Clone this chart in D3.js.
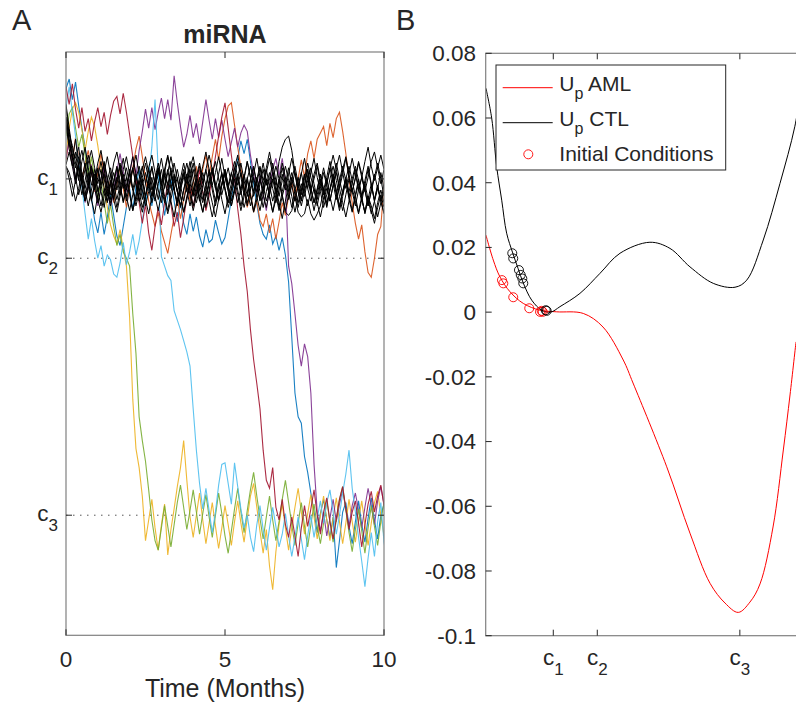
<!DOCTYPE html>
<html>
<head>
<meta charset="UTF-8">
<script src="https://d3js.org/d3.v7.min.js"></script>
<style>
  body { margin: 0; background: #fff; }
  text { font-family: "Liberation Sans", Arial, Helvetica, sans-serif; fill: #262626; }
</style>
</head>
<body>
<svg id="canvas" width="796" height="708"></svg>
<script>
// fixed points of the miRNA level (same units on A's y axis and B's x axis)
const levelSubs = ["1", "2", "3"];
const levels = [20, 25, 41.2];
const timeTicks = [0, 5, 10];
const dt = 0.1; // months between samples

// AML runs, miRNA level every 0.1 month from t = 0 to 10
const amlBlue = [14.3,13.7,15.0,13.9,15.4,16.8,18.0,19.5,21.2,22.6,23.4,
  22.1,23.5,22.4,21.0,22.3,23.6,24.2,23.0,21.8,20.6,
  21.9,20.5,19.4,20.8,21.6,20.3,21.7,20.4,19.6,21.0,
  22.3,21.1,20.0,21.4,22.7,21.5,22.8,23.5,22.2,23.3,
  22.4,23.6,24.3,23.2,24.0,23.8,22.6,23.4,24.1,23.7,
  22.5,21.3,20.0,18.7,17.6,18.4,17.5,18.9,20.3,21.6,
  22.8,23.5,23.8,22.9,24.1,23.6,24.5,23.7,24.8,26.5,
  30.0,33.5,35.0,35.4,37.5,38.5,39.8,41.0,42.3,41.1,
  40.2,41.5,42.6,41.3,44.5,42.8,41.0,40.4,41.9,43.0,
  41.6,40.3,41.8,42.9,41.4,40.1,41.5,42.7,41.2,40.5,41.8];
const amlOrange = [18.8,17.6,18.9,17.4,18.6,20.1,19.0,18.2,19.5,20.8,19.6,
  18.4,19.7,21.0,20.1,21.5,20.4,19.2,20.6,21.8,20.5,
  19.3,18.1,17.3,18.6,20.0,21.4,22.2,23.0,22.1,23.3,
  24.0,24.7,23.5,22.4,21.2,22.5,21.3,20.1,21.4,20.3,
  19.2,20.5,19.4,18.5,19.8,18.6,17.5,18.8,17.3,16.2,
  15.4,15.2,16.6,18.0,19.3,20.6,21.8,20.9,22.1,21.4,
  22.6,23.0,22.2,23.4,22.5,23.8,22.7,21.5,22.3,21.1,
  20.2,21.4,20.0,18.8,19.9,18.4,17.6,18.7,17.5,17.1,
  16.7,17.9,16.5,17.4,16.2,15.8,17.0,18.4,20.0,21.5,
  22.8,23.8,22.9,24.6,25.9,26.2,25.0,23.5,23.0,20.4,17.7];
const amlYellow = [18.5,16.8,15.6,15.2,15.8,16.9,18.2,17.0,16.1,16.7,17.9,
  19.3,20.6,21.8,22.9,23.6,24.1,23.2,24.4,25.5,28.7,
  33.9,37.0,38.2,40.0,42.8,41.5,40.2,42.0,43.4,41.8,
  40.5,43.7,42.1,40.8,39.4,38.2,36.5,39.0,41.3,42.6,
  41.2,39.8,41.5,43.0,41.7,40.4,41.9,43.3,42.0,40.6,
  41.8,43.1,41.6,40.3,41.7,42.9,41.4,40.0,39.2,40.7,
  42.2,43.6,42.1,44.4,45.9,43.5,41.8,40.5,42.0,43.4,
  42.0,40.7,39.5,41.0,42.4,41.1,39.9,41.3,42.7,41.2,
  40.0,41.5,42.8,41.4,40.1,41.6,43.0,41.7,40.2,41.6,
  42.9,41.5,40.3,41.8,43.1,41.7,40.4,39.7,41.2,42.5,41.3];
const amlPurple = [18.7,17.5,18.9,20.2,19.0,20.4,21.5,20.3,19.1,20.5,21.7,
  20.4,19.2,20.6,21.8,20.7,19.5,18.4,19.6,20.8,19.7,
  18.6,19.8,18.2,17.0,15.6,16.8,15.5,16.9,15.8,14.9,
  16.2,15.0,16.3,13.5,15.2,16.7,18.0,17.2,16.0,17.4,
  16.5,17.8,16.4,15.0,16.3,17.5,16.2,17.4,16.3,17.5,
  18.6,17.7,16.8,18.0,17.1,16.6,17.0,18.5,19.7,20.9,
  19.8,21.0,22.0,20.5,19.4,18.7,19.8,18.7,20.2,25.5,
  26.6,28.5,30.5,31.8,30.4,31.2,33.5,38.0,41.0,42.2,
  41.0,42.5,41.4,40.2,41.6,40.5,39.6,40.8,41.9,40.6,
  39.8,40.9,42.0,40.7,39.5,40.6,41.8,40.3,39.4,40.5,39.2];
const amlGreen = [17.3,15.9,15.5,16.8,18.0,17.2,18.5,19.8,18.6,20.0,21.3,
  20.1,21.5,22.8,21.6,23.0,24.2,23.5,24.6,25.0,25.5,
  28.5,31.0,35.0,36.5,37.8,39.6,41.5,42.8,43.4,42.0,
  40.6,41.9,43.2,41.8,40.4,39.3,40.7,42.1,40.9,39.6,
  41.0,42.4,41.1,39.9,41.3,42.6,41.2,39.8,41.1,42.5,
  43.6,42.2,40.8,39.5,41.0,42.3,40.9,39.6,38.5,40.0,
  41.4,42.7,41.3,40.0,41.5,42.8,41.6,40.2,39.0,40.4,
  41.8,43.1,41.7,40.4,41.9,43.2,41.8,40.5,41.9,43.0,
  41.7,40.3,41.6,42.9,41.5,40.2,39.4,40.9,42.3,43.5,
  42.1,40.8,42.2,43.6,42.0,40.6,41.9,43.1,41.6,40.4,41.5];
const amlLightBlue = [15.5,14.2,15.8,17.3,18.9,20.5,22.2,23.8,22.5,23.9,25.0,
  24.2,25.5,24.8,25.1,26.0,26.2,25.3,24.0,25.4,24.6,
  23.5,24.8,23.9,22.6,21.4,19.8,18.0,15.0,19.5,24.9,
  25.5,26.1,26.4,28.3,28.9,29.5,30.2,30.9,31.8,34.5,
  37.1,39.2,40.8,39.5,40.9,42.3,41.0,39.3,38.0,37.9,
  39.2,40.5,37.9,39.4,40.8,42.0,41.2,42.6,43.5,41.8,
  40.6,42.1,43.4,42.0,40.7,41.9,43.2,42.4,41.1,42.5,
  43.8,42.6,41.3,42.7,44.0,42.5,41.2,42.6,41.4,40.3,
  41.7,40.4,39.6,41.0,42.4,41.2,39.8,38.6,37.1,39.5,
  41.0,42.6,44.1,45.7,43.9,42.3,43.8,41.6,40.4,42.9,44.2];
const amlDarkRed = [14.2,15.3,14.0,15.6,16.8,15.5,17.0,16.2,17.6,16.4,15.5,
  16.7,15.8,17.2,16.0,15.1,14.8,15.9,14.6,15.8,17.2,
  18.6,20.0,21.5,22.8,21.6,23.4,24.5,23.0,21.8,22.9,
  21.5,20.2,21.6,23.0,22.1,23.7,22.5,21.2,20.5,21.8,
  20.6,19.4,20.8,22.0,21.1,19.8,18.6,17.3,16.1,15.2,
  16.8,18.5,20.0,21.9,23.5,25.5,27.1,29.5,31.4,32.9,
  34.5,37.1,39.0,39.5,38.2,40.7,41.5,40.2,41.8,42.6,
  41.3,42.5,43.8,42.0,40.6,41.9,40.8,39.6,41.2,42.4,
  41.0,40.1,41.6,42.7,41.4,40.2,39.4,40.8,42.1,41.0,
  40.3,41.7,43.2,41.8,40.5,39.7,41.0,40.0,39.3,40.6,39.8];

// CTL runs (black)
const ctl1 = [15.3,16.8,18.2,18.7,18.0,19.7,20.6,19.6,21.3,20.3,19.3,20.8,21.8,20.6,19.7,21.3,20.1,19.2,20.3,21.4,
  20.4,19.4,18.5,19.7,20.7,21.7,20.8,19.9,21.1,22.0,21.0,19.7,20.4,19.3,20.6,21.5,20.3,19.6,20.8,20.0,
  19.0,20.1,21.3,22.1,21.1,20.1,19.4,20.6,19.7,18.7,19.9,20.8,21.7,20.7,19.9,21.0,20.0,18.9,19.9,21.1,
  20.3,19.3,20.4,21.4,20.6,19.6,20.7,21.8,20.8,19.9,20.8,20.0,19.2,20.3,21.3,20.4,19.4,20.6,21.5,20.7,
  19.7,20.7,19.9,18.9,20.0,21.0,22.0,21.1,20.1,21.3,22.1,21.0,20.0,21.1,22.2,21.3,20.3,21.4,22.4,21.5,20.8];
const ctl2 = [15.5,17.2,17.9,19.0,20.1,18.9,18.0,19.3,20.4,19.4,20.7,21.7,20.6,21.4,20.3,19.0,18.3,19.4,20.6,19.9,
  21.0,22.0,21.1,20.0,19.2,20.3,19.3,18.5,19.6,20.7,21.5,20.4,19.4,20.6,19.7,20.8,21.8,20.7,19.9,18.9,
  20.0,21.0,20.1,19.2,18.3,19.4,20.4,21.4,20.3,21.3,22.2,21.1,20.3,19.3,20.4,19.6,20.7,21.7,20.6,19.7,
  18.7,19.9,20.8,20.0,21.1,22.1,21.0,20.1,19.0,19.9,20.8,21.8,20.7,19.9,21.0,20.0,19.0,19.9,20.7,21.7,
  20.6,19.6,20.4,21.4,20.4,19.3,18.5,19.6,20.6,19.7,18.7,19.7,20.7,19.9,18.9,18.0,19.2,20.1,19.3,18.5,19.4];
const ctl3 = [16.1,17.5,18.8,17.5,19.2,20.3,21.4,20.4,19.3,20.1,19.0,18.2,19.4,20.6,21.5,20.7,21.8,20.8,19.7,20.7,
  19.6,18.6,19.7,20.8,20.0,21.3,22.2,21.1,20.1,19.3,20.4,19.4,18.5,19.6,20.7,19.9,21.0,22.1,21.3,20.3,
  21.1,20.1,19.2,20.3,19.4,18.5,19.4,20.6,21.4,20.4,19.6,20.6,21.7,20.8,19.9,19.0,20.1,21.1,20.1,19.3,
  20.3,21.4,20.6,19.6,18.7,19.7,20.8,20.0,21.0,22.0,21.0,19.9,20.8,21.8,20.8,19.7,20.6,19.6,18.7,19.9,
  20.8,21.8,21.0,20.0,19.2,20.1,21.1,22.0,21.0,20.0,20.8,19.9,18.9,19.7,20.7,21.7,20.7,19.7,20.6,21.4,20.4];
const ctl4 = [16.3,17.0,18.4,19.3,18.6,20.0,19.0,20.1,21.3,22.2,21.0,20.0,18.9,19.9,21.0,20.1,19.2,20.4,21.5,20.6,
  19.4,20.6,21.4,20.4,19.4,18.6,19.6,20.7,20.0,19.0,20.1,21.1,22.0,20.8,19.9,20.8,20.0,19.0,20.0,21.0,
  22.0,21.1,20.3,21.3,20.4,19.4,20.4,19.6,18.6,19.7,20.7,21.8,21.0,20.0,21.0,22.0,21.1,20.1,21.1,22.1,
  21.3,20.3,19.4,20.4,19.6,20.6,21.5,20.7,19.7,20.7,19.7,18.7,19.7,20.8,21.7,20.8,19.9,21.0,22.0,21.0,
  20.0,20.8,21.8,20.7,19.9,19.0,20.0,21.0,20.0,19.2,20.1,21.1,22.1,21.1,20.3,21.3,22.2,21.4,20.4,21.4,22.2];
const ctl5 = [16.5,18.1,19.2,18.3,19.9,21.0,20.1,19.0,18.2,19.3,20.3,19.4,20.6,21.5,20.4,19.6,20.7,19.7,18.7,19.9,
  20.8,22.0,21.1,20.1,21.3,20.3,19.3,20.4,21.4,20.3,19.4,20.6,19.6,18.6,19.7,20.8,21.7,20.7,19.7,20.7,
  21.7,20.8,19.9,20.8,21.8,20.7,19.7,18.9,20.0,21.0,20.1,19.3,20.3,19.3,18.5,19.6,20.6,21.5,20.7,19.9,
  20.8,20.0,19.0,20.1,21.1,22.1,21.3,20.3,19.3,20.3,21.3,20.4,19.6,20.6,19.7,18.7,19.9,20.8,20.0,19.2,
  20.3,21.3,20.3,19.3,20.3,21.3,20.4,19.4,18.6,19.7,20.8,21.7,20.7,19.9,20.7,21.7,20.8,19.9,19.0,20.0,21.1];
const ctl6 = [16.6,17.8,18.6,19.9,21.0,20.0,21.1,20.1,19.2,20.1,21.3,22.1,21.1,20.1,19.3,20.3,21.3,20.4,19.4,18.6,
  19.7,20.7,19.7,20.8,21.8,21.0,20.0,19.2,20.3,21.3,20.3,19.4,20.4,21.4,22.4,21.3,20.4,19.4,20.3,19.3,
  18.6,19.7,20.7,21.5,20.6,19.6,20.7,21.7,20.7,19.7,20.6,21.5,20.6,19.7,18.9,19.9,21.0,20.0,19.2,20.1,
  21.1,22.0,21.0,20.0,21.0,20.1,19.2,20.0,21.1,20.3,19.3,20.4,21.4,20.4,19.6,20.7,21.7,20.7,19.7,19.0,
  20.1,21.0,20.0,21.1,22.0,21.0,20.1,19.2,20.1,21.1,20.3,19.4,20.6,21.4,20.4,19.4,20.4,21.4,20.6,19.6,20.6];
const ctl7 = [19.1,18.3,19.2,20.3,19.3,20.4,21.4,20.6,19.6,20.7,19.9,18.9,20.0,21.1,20.1,21.3,22.1,21.1,20.1,19.3,
  20.3,19.3,20.4,21.4,20.4,19.6,20.6,21.5,20.6,19.7,18.7,19.9,21.0,20.0,19.0,20.0,21.1,22.1,21.1,20.3,
  19.4,20.4,21.4,20.4,19.4,20.6,21.5,22.4,21.3,20.3,19.4,20.4,19.6,20.6,21.5,20.6,19.7,20.7,21.7,20.8,
  19.9,20.8,21.8,20.8,20.0,19.0,20.1,21.1,20.1,19.2,20.1,21.1,22.1,21.1,20.3,21.1,20.1,19.3,20.3,21.3,
  20.3,19.3,20.3,19.4,18.5,19.4,20.6,19.7,18.7,19.9,20.8,20.0,19.0,19.9,20.8,19.9,18.9,18.3,19.3,20.3,19.4];
const ctl8 = [19.2,20.0,21.1,20.1,19.2,20.3,19.4,18.5,19.6,20.6,21.5,20.7,19.7,20.8,21.7,20.7,19.9,21.0,20.0,21.1,
  22.0,21.0,20.0,19.2,20.1,21.1,20.3,19.3,20.4,19.4,20.6,21.5,20.6,19.6,20.7,21.7,20.7,19.9,19.0,20.0,
  21.0,20.1,21.1,22.1,21.1,20.3,19.3,20.3,21.3,20.4,19.6,20.6,19.7,18.9,19.9,20.8,21.8,21.0,20.0,19.2,
  20.3,21.3,20.4,19.4,20.4,21.4,20.6,21.5,22.5,21.4,20.4,19.6,20.6,21.5,20.7,19.7,20.6,21.4,20.6,21.5,
  22.4,21.4,20.6,21.4,20.4,19.6,20.6,21.5,22.4,21.4,20.6,21.4,22.2,21.3,22.1,21.1,21.7,22.5,21.5,20.7,21.5];
const ctl9 = [16.1,17.6,18.6,20.0,19.0,18.2,19.3,20.4,21.4,20.4,19.4,20.4,19.6,18.6,19.7,20.8,20.0,19.0,20.1,21.1,
  20.1,19.3,20.3,21.3,22.1,21.1,20.1,21.1,20.3,19.4,20.4,19.6,18.6,19.6,20.7,21.5,20.6,19.7,20.7,21.7,
  20.7,19.9,19.0,20.1,21.1,20.3,19.3,20.4,21.3,20.3,19.4,20.4,21.4,20.6,19.7,20.7,19.9,18.9,19.9,20.8,
  20.0,19.2,20.1,19.3,18.3,19.4,20.4,18.9,18.0,17.5,17.3,18.2,19.6,20.6,21.4,20.4,19.4,20.6,21.5,20.6,
  19.7,20.7,21.7,20.7,19.9,20.8,21.8,20.8,19.9,20.8,20.0,19.2,20.1,21.1,20.1,19.2,20.3,21.3,20.4,21.4,22.1];
const ctl10 = [19.2,19.6,20.4,21.4,20.6,19.6,20.7,21.7,20.7,19.7,20.8,20.0,19.0,20.1,21.3,20.3,19.3,20.4,21.4,20.4,
  19.6,20.7,21.7,20.8,19.9,19.0,20.1,21.1,20.3,19.3,20.3,21.3,22.2,21.3,20.3,19.4,20.4,21.4,20.4,19.4,
  20.6,21.5,20.6,19.6,20.4,21.4,22.4,21.4,20.4,19.6,20.6,21.5,20.7,19.7,20.7,21.7,20.8,19.9,21.0,22.0,
  21.0,20.0,21.0,21.8,20.8,20.0,21.0,22.0,21.1,22.1,22.3,22.0,21.1,22.1,22.4,22.2,21.3,22.2,22.6,22.2,
  21.7,20.7,21.5,20.6,19.7,20.7,21.7,20.8,20.0,21.0,22.0,21.1,20.3,21.3,22.1,21.1,22.0,22.8,21.8,21.0,21.8];

// panel B: potential U_p against miRNA level
const ctlLevel = [12.35,13.0,13.57,14.14,14.70,15.39,16.0,16.59,17.55,18.68,19.7,20.76,23.03,25.31,27.58,30.98,33.26,35.53,38.18,40.65,41.98,43.86,45.76,47.44,48.2];
const ctlU = [0.0692,0.0600,0.0449,0.0346,0.0244,0.0183,0.0135,0.0090,0.0037,0.0006,0.0,0.0017,0.0058,0.0120,0.0182,0.0216,0.0197,0.0140,0.0089,0.0077,0.0099,0.0223,0.0398,0.0573,0.0700];
const amlLevel = [12.35,13.18,13.94,15.08,16.59,18.49,20.39,23.41,25.65,27.95,29.06,32.89,35.53,37.81,39.51,41.02,42.35,43.49,44.97,46.14,46.9,47.58];
const amlU = [0.0238,0.0161,0.0109,0.0063,0.0027,0.0006,0.0001,-0.0004,-0.0046,-0.0148,-0.0219,-0.0478,-0.0683,-0.0838,-0.0899,-0.0928,-0.0896,-0.0840,-0.0664,-0.0426,-0.0256,-0.0092];
const icAmlLevel = [14.17,14.32,15.45,17.27,18.49,18.68,18.80];
const icAmlU = [0.0099,0.0089,0.0046,0.0012,0.0001,0.0004,0.0001];
const icCtlLevel = [15.34,15.45,16.10,16.30,16.48,16.59,19.14,19.25];
const icCtlU = [0.0182,0.0166,0.0130,0.0115,0.0104,0.0089,0.0006,0.0004];
const uTicks = [-0.1,-0.08,-0.06,-0.04,-0.02,0,0.02,0.04,0.06,0.08];

const amlRuns = [
  {v: amlBlue, c: "#0072BD"}, {v: amlOrange, c: "#D95319"}, {v: amlYellow, c: "#EDB120"},
  {v: amlPurple, c: "#7E2F8E"}, {v: amlGreen, c: "#77AC30"}, {v: amlLightBlue, c: "#4DBEEE"},
  {v: amlDarkRed, c: "#A2142F"}
];
const ctlRuns = [ctl1, ctl2, ctl3, ctl4, ctl5, ctl6, ctl7, ctl8, ctl9, ctl10];

const tickFont = 22.5, labelFont = 25, axisGray = "#808080", tickLen = 6;

const svg = d3.select("#canvas");

// c with a subscript, like MATLAB's tex labels
function cLabel(sel, sub) {
  sel.append("tspan").text("c");
  sel.append("tspan").attr("font-size", 17).attr("dy", 10).text(sub);
}

// ---------- panel A ----------
const boxA = {l: 66, r: 384, t: 52, b: 635.3};
const xA = d3.scaleLinear().domain([0, 10]).range([boxA.l, boxA.r]);
const yA = d3.scaleLinear().domain([12, 48.77]).range([boxA.t, boxA.b]);

svg.append("defs").append("clipPath").attr("id", "clipA")
  .append("rect").attr("x", boxA.l).attr("y", boxA.t)
  .attr("width", boxA.r - boxA.l).attr("height", boxA.b - boxA.t);

const gA = svg.append("g");

// dotted guides at c2 and c3
gA.selectAll(".guide").data(levels.slice(1)).enter().append("line")
  .attr("x1", boxA.l).attr("x2", boxA.r)
  .attr("y1", d => yA(d)).attr("y2", d => yA(d))
  .attr("stroke", "#555").attr("stroke-width", 1)
  .attr("stroke-dasharray", "1.5,5.5");

const runLine = d3.line().x((d, i) => xA(i * dt)).y(d => yA(d));

const runs = gA.append("g").attr("clip-path", "url(#clipA)");
runs.selectAll(".aml").data(amlRuns).enter().append("path")
  .attr("d", d => runLine(d.v))
  .attr("fill", "none").attr("stroke", d => d.c)
  .attr("stroke-width", 1.1).attr("stroke-opacity", 0.9);
runs.selectAll(".ctl").data(ctlRuns).enter().append("path")
  .attr("d", d => runLine(d))
  .attr("fill", "none").attr("stroke", "#000").attr("stroke-width", 1);

gA.append("rect")
  .attr("x", boxA.l).attr("y", boxA.t)
  .attr("width", boxA.r - boxA.l).attr("height", boxA.b - boxA.t)
  .attr("fill", "none").attr("stroke", axisGray).attr("stroke-width", 1.2);

// ticks inward on all four sides
timeTicks.forEach(t => {
  gA.append("line").attr("x1", xA(t)).attr("x2", xA(t))
    .attr("y1", boxA.b).attr("y2", boxA.b - tickLen).attr("stroke", "#262626");
  gA.append("line").attr("x1", xA(t)).attr("x2", xA(t))
    .attr("y1", boxA.t).attr("y2", boxA.t + tickLen).attr("stroke", "#262626");
});
levels.forEach(c => {
  gA.append("line").attr("x1", boxA.l).attr("x2", boxA.l + tickLen)
    .attr("y1", yA(c)).attr("y2", yA(c)).attr("stroke", "#262626");
  gA.append("line").attr("x1", boxA.r).attr("x2", boxA.r - tickLen)
    .attr("y1", yA(c)).attr("y2", yA(c)).attr("stroke", "#262626");
});

gA.selectAll(".xt").data(timeTicks).enter().append("text")
  .attr("x", d => xA(d)).attr("y", 667)
  .attr("text-anchor", "middle").attr("font-size", tickFont)
  .text(d => d);

gA.selectAll(".yt").data(levels).enter().append("text")
  .attr("x", 58).attr("y", d => yA(d) + 6)
  .attr("text-anchor", "end").attr("font-size", tickFont)
  .each(function(d, i) { cLabel(d3.select(this), levelSubs[i]); });

gA.append("text").attr("x", 225).attr("y", 697)
  .attr("text-anchor", "middle").attr("font-size", labelFont)
  .text("Time (Months)");
gA.append("text").attr("x", 225).attr("y", 43)
  .attr("text-anchor", "middle").attr("font-size", labelFont)
  .attr("font-weight", "bold").text("miRNA");
svg.append("text").attr("x", 12).attr("y", 30).attr("font-size", 29).text("A");

// ---------- panel B ----------
const boxB = {l: 485.7, r: 799.7, t: 53.3, b: 635.7};
const xB = d3.scaleLinear().domain([12.32, 48.0]).range([boxB.l, boxB.r]);
const yB = d3.scaleLinear().domain([-0.1, 0.08]).range([boxB.b, boxB.t]);

svg.select("defs").append("clipPath").attr("id", "clipB")
  .append("rect").attr("x", boxB.l).attr("y", boxB.t)
  .attr("width", boxB.r - boxB.l).attr("height", boxB.b - boxB.t);

const gB = svg.append("g");

const potLine = d3.line().curve(d3.curveCatmullRom.alpha(0.5))
  .x(d => xB(d[0])).y(d => yB(d[1]));

const curves = gB.append("g").attr("clip-path", "url(#clipB)");
curves.append("path").attr("d", potLine(d3.zip(amlLevel, amlU)))
  .attr("fill", "none").attr("stroke", "#ff0000").attr("stroke-width", 1);
curves.append("path").attr("d", potLine(d3.zip(ctlLevel, ctlU)))
  .attr("fill", "none").attr("stroke", "#000").attr("stroke-width", 1);

curves.selectAll(".icA").data(d3.zip(icAmlLevel, icAmlU)).enter().append("circle")
  .attr("cx", d => xB(d[0])).attr("cy", d => yB(d[1])).attr("r", 4.5)
  .attr("fill", "none").attr("stroke", "#ff0000").attr("stroke-width", 0.9);
curves.selectAll(".icC").data(d3.zip(icCtlLevel, icCtlU)).enter().append("circle")
  .attr("cx", d => xB(d[0])).attr("cy", d => yB(d[1])).attr("r", 4.5)
  .attr("fill", "none").attr("stroke", "#000").attr("stroke-width", 0.9);

gB.append("rect")
  .attr("x", boxB.l).attr("y", boxB.t)
  .attr("width", boxB.r - boxB.l).attr("height", boxB.b - boxB.t)
  .attr("fill", "none").attr("stroke", axisGray).attr("stroke-width", 1.2);

uTicks.forEach(u => {
  gB.append("line").attr("x1", boxB.l).attr("x2", boxB.l + tickLen)
    .attr("y1", yB(u)).attr("y2", yB(u)).attr("stroke", "#262626");
});
levels.forEach(c => {
  gB.append("line").attr("x1", xB(c)).attr("x2", xB(c))
    .attr("y1", boxB.b).attr("y2", boxB.b - tickLen).attr("stroke", "#262626");
  gB.append("line").attr("x1", xB(c)).attr("x2", xB(c))
    .attr("y1", boxB.t).attr("y2", boxB.t + tickLen).attr("stroke", "#262626");
});

gB.selectAll(".ut").data(uTicks).enter().append("text")
  .attr("x", 476).attr("y", d => yB(d)).attr("dy", "0.35em")
  .attr("text-anchor", "end").attr("font-size", tickFont)
  .text(d => String(d));

gB.selectAll(".ct").data(levels).enter().append("text")
  .attr("x", d => xB(d)).attr("y", 665)
  .attr("text-anchor", "middle").attr("font-size", tickFont)
  .each(function(d, i) { cLabel(d3.select(this), levelSubs[i]); });

svg.append("text").attr("x", 396).attr("y", 30).attr("font-size", 29).text("B");

// legend
const leg = gB.append("g");
leg.append("rect").attr("x", 496).attr("y", 65).attr("width", 229.7).attr("height", 105)
  .attr("fill", "#fff").attr("stroke", "#262626").attr("stroke-width", 1);
const legItems = [
  {color: "#ff0000", y: 87.7, label: "AML"},
  {color: "#000", y: 122.7, label: "CTL"}
];
legItems.forEach(it => {
  leg.append("line").attr("x1", 502.7).attr("x2", 552.7)
    .attr("y1", it.y).attr("y2", it.y).attr("stroke", it.color).attr("stroke-width", 1);
  const tx = leg.append("text").attr("x", 559.3).attr("y", it.y + 3)
    .attr("font-size", 21);
  tx.append("tspan").text("U");
  tx.append("tspan").attr("font-size", 16).attr("dy", 8.5).text("p");
  tx.append("tspan").attr("dy", -8.5).text(" " + it.label);
});
leg.append("circle").attr("cx", 528.3).attr("cy", 154.3).attr("r", 4.5)
  .attr("fill", "none").attr("stroke", "#ff0000").attr("stroke-width", 0.9);
leg.append("text").attr("x", 559.3).attr("y", 161).attr("font-size", 21)
  .text("Initial Conditions");
</script>
</body>
</html>
